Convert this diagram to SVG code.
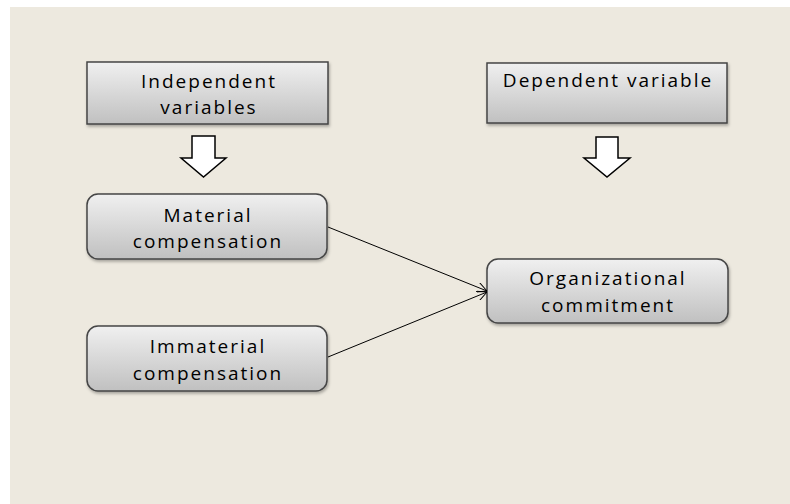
<svg xmlns="http://www.w3.org/2000/svg" width="790" height="504" viewBox="0 0 790 504">
  <defs>
    <linearGradient id="g" x1="0" y1="0" x2="0" y2="1">
      <stop offset="0" stop-color="#f0f0f0"/>
      <stop offset="1" stop-color="#c0c0c0"/>
    </linearGradient>
    <filter id="sh" x="-10%" y="-10%" width="120%" height="130%">
      <feDropShadow dx="1" dy="2" stdDeviation="1.5" flood-color="#000" flood-opacity="0.3"/>
    </filter>
    <marker id="ah" viewBox="0 0 10 10" refX="10" refY="5" markerWidth="10" markerHeight="10" markerUnits="userSpaceOnUse" orient="auto">
      <path d="M0,0 L10,5 L0,10" fill="none" stroke="#000" stroke-width="1"/>
    </marker>
    <style>
      .box { fill: url(#g); stroke: #454545; stroke-width: 1.5; filter: url(#sh); }
      .t { font-family: "Open Sans", "Liberation Sans", Arial, sans-serif; font-size: 19px; letter-spacing: 2px; fill: #000; text-anchor: middle; }
      .bigarrow { fill: #fff; stroke: #000; stroke-width: 1.5; }
      .conn { stroke: #000; stroke-width: 1; fill: none; marker-end: url(#ah); }
    </style>
  </defs>
  <rect x="0" y="0" width="790" height="504" fill="#ffffff"/>
  <rect x="10" y="7" width="780" height="497" fill="#ede9df"/>

  <g id="independent">
    <rect class="box" x="87" y="62" width="241" height="62"/>
    <text class="t" x="209" y="88">Independent</text>
    <text class="t" x="209" y="114">variables</text>
  </g>
  <g id="dependent">
    <rect class="box" x="487" y="63" width="240" height="60"/>
    <text class="t" x="608" y="87">Dependent variable</text>
  </g>
  <g id="arrow-left">
    <path class="bigarrow" d="M192,136 L215,136 L215,158 L226,158 L203.5,177 L181,158 L192,158 Z"/>
  </g>
  <g id="arrow-right">
    <path class="bigarrow" d="M596,137 L618,137 L618,158 L630,158 L607,177 L584,158 L596,158 Z"/>
  </g>
  <g id="material">
    <rect class="box" x="87" y="194" width="240" height="65" rx="11"/>
    <text class="t" x="208" y="222">Material</text>
    <text class="t" x="208" y="248">compensation</text>
  </g>
  <g id="immaterial">
    <rect class="box" x="87" y="326" width="240" height="65" rx="11"/>
    <text class="t" x="208" y="353">Immaterial</text>
    <text class="t" x="208" y="380">compensation</text>
  </g>
  <g id="organizational">
    <rect class="box" x="487" y="259" width="241" height="64" rx="11"/>
    <text class="t" x="608" y="285">Organizational</text>
    <text class="t" x="608" y="312">commitment</text>
  </g>
  <g id="connectors">
    <line class="conn" x1="328" y1="227" x2="487" y2="291"/>
    <line class="conn" x1="328" y1="357" x2="487" y2="292"/>
  </g>
</svg>
